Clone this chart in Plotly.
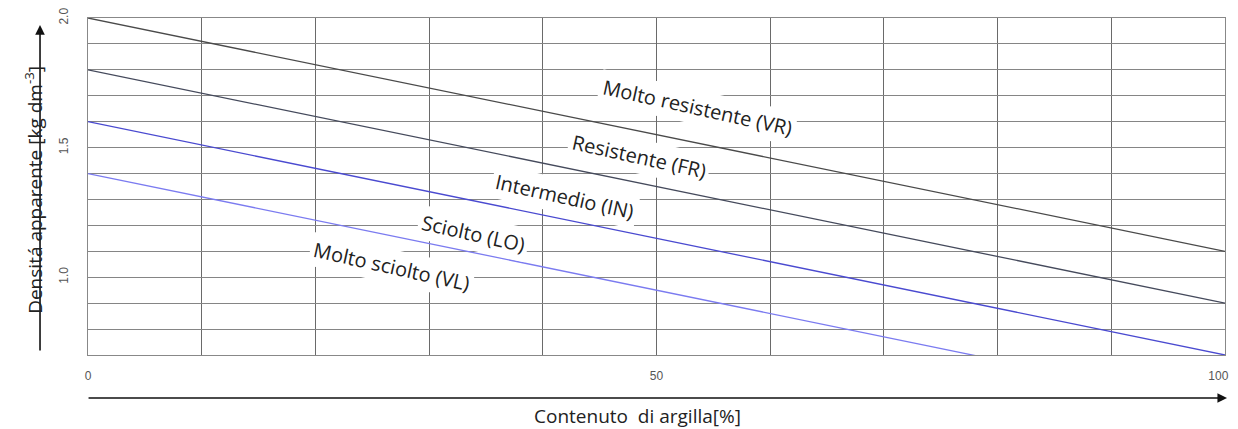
import plotly.graph_objects as go

# Data
clay = [0, 100]
classes = ["VR", "FR", "IN", "LO"]
line_values = {
    "VR": [2.0, 1.1],
    "FR": [1.8, 0.9],
    "IN": [1.6, 0.7],
    "LO": [1.4, 0.5],
}
line_colors = {"VR": "#4a4a4a", "FR": "#454a5c", "IN": "#4a4ad0", "LO": "#7b7bf0"}

label_texts = ["Molto resistente (VR)", "Resistente (FR)", "Intermedio (IN)",
               "Sciolto (LO)", "Molto sciolto (VL)"]
label_x = [53.6, 48.5, 41.9, 33.9, 26.7]
label_y = [1.655, 1.465, 1.31, 1.17, 1.04]

x_ticks = [0, 50, 100]
x_ticktext = ["0", "50", "100\u00a0\u00a0\u00a0\u00a0"]
y_ticks = [1.0, 1.5, 2.0]
y_ticktext = ["1.0", "1.5", "2.0"]

fig = go.Figure()
for c in classes:
    fig.add_trace(go.Scatter(x=clay, y=line_values[c], mode="lines",
                             line=dict(color=line_colors[c], width=1.3),
                             showlegend=False, hoverinfo="skip"))

font_lbl = dict(family="Open Sans, Lato, sans-serif", size=20, color="#222222")
for t, xx, yy in zip(label_texts, label_x, label_y):
    fig.add_annotation(x=xx, y=yy, text=t, showarrow=False, textangle=12.5,
                       font=font_lbl, bgcolor="white", borderpad=3)

# axis arrows
fig.add_annotation(xref="paper", yref="paper", x=1.0018, y=-0.1276, ax=-1140, ay=0,
                   axref="pixel", ayref="pixel", text="", showarrow=True,
                   arrowhead=2, arrowsize=1.2, arrowwidth=1.6, arrowcolor="#111")
fig.add_annotation(xref="paper", yref="paper", x=-0.0422, y=0.979, ax=0, ay=327,
                   axref="pixel", ayref="pixel", text="", showarrow=True,
                   arrowhead=2, arrowsize=1.2, arrowwidth=1.6, arrowcolor="#111")

fig.add_annotation(xref="paper", yref="paper", x=0.483, y=-0.182, text="Contenuto  di argilla[%]",
                   showarrow=False, font=dict(family="Open Sans, Lato, sans-serif", size=19, color="#222"),
                   yanchor="middle")
fig.add_annotation(xref="paper", yref="paper", x=-0.0616, y=0.49,
                   text="Densitá apparente [kg dm<sup>-3</sup>]", textangle=-90,
                   showarrow=False, font=dict(family="Open Sans, Lato, sans-serif", size=19, color="#222"))

fig.update_xaxes(range=[0, 100], tickvals=x_ticks, ticktext=x_ticktext,
                 showgrid=True, gridcolor="#6a6a6a", gridwidth=1,
                 showline=True, linecolor="#888888", linewidth=1, mirror=True,
                 ticks="", ticklabelstandoff=10, automargin=False, ticklabeloverflow="allow",
                 tickfont=dict(family="Liberation Sans, Arial", size=12, color="#555"),
                 minor=dict(showgrid=True, gridcolor="#6a6a6a", dtick=10, tick0=0),
                 zeroline=False)
fig.update_yaxes(range=[0.7, 2.0], tickvals=y_ticks, ticktext=y_ticktext,
                 tickangle=-90, showgrid=False,
                 minor=dict(showgrid=True, gridcolor="#858585", gridwidth=1, dtick=0.1, tick0=0.7),
                 showline=True, linecolor="#888888", linewidth=1, mirror=True,
                 ticks="", ticklabelstandoff=14, automargin=False, ticklabeloverflow="allow",
                 tickfont=dict(family="Liberation Sans, Arial", size=12, color="#555"),
                 zeroline=False)

# page body adds an 8px margin, so the figure is sized to fill the rest of the window
fig.update_layout(width=1230, height=421, margin=dict(l=80, r=13, t=10, b=74, autoexpand=False),
                  plot_bgcolor="white", paper_bgcolor="white")

fig.write_html("out.html")
